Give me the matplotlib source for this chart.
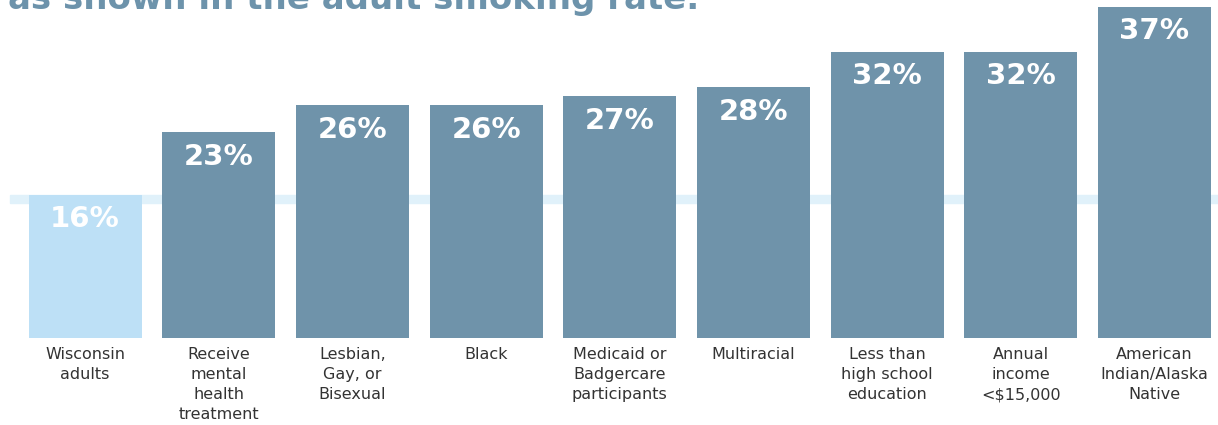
import matplotlib.pyplot as plt

# Datos del gráfico
categorias = ['Wisconsin\nadults', 'Receive\nmental\nhealth\ntreatment', 'Lesbian,\nGay, or\nBisexual',
              'Black', 'Medicaid or\nBadgercare\nparticipants', 'Multiracial',
              'Less than\nhigh school\neducation', 'Annual\nincome\n<$15,000',
              'American\nIndian/Alaska\nNative']
valores = [16, 23, 26, 26, 27, 28, 32, 32, 37]
etiquetas = ['16%', '23%', '26%', '26%', '27%', '28%', '32%', '32%', '37%']

color_base = '#bde0f6'
color_barra = '#6f93aa'
color_banda = '#e0f1fa'

fig = plt.figure(figsize=(12.18, 4.25), dpi=100)
ax = fig.add_axes([0, (425 - 338) / 425, 1, 338 / 425])

x = list(range(len(valores)))
colores = [color_base] + [color_barra] * (len(valores) - 1)

# Banda horizontal al nivel de la media estatal
ax.axhspan(valores[0] - 0.9, valores[0], xmin=10 / 1218, xmax=1, color=color_banda, zorder=1)

ax.bar(x, valores, width=0.845, color=colores, zorder=2)

for xi, v, txt in zip(x, valores, etiquetas):
    ax.text(xi, v - 2.75, txt, ha='center', va='center', color='white',
            fontsize=21, fontweight='heavy', zorder=3)

for xi, cat in zip(x, categorias):
    ax.text(xi, -1.0, cat, ha='center', va='top', color='#333333',
            fontsize=11.5, linespacing=1.42, clip_on=False)

ax.set_xlim(-0.636, 8.475)
ax.set_ylim(0, 338 / 8.95)
ax.axis('off')

# Título cortado en la parte superior (como en el original)
fig.text(8 / 1218, 1 - 9 / 425, 'as shown in the adult smoking rate.', ha='left', va='baseline',
         color='#6d93ab', fontsize=24.5, fontweight='heavy')

plt.savefig('out.png', dpi=100)
